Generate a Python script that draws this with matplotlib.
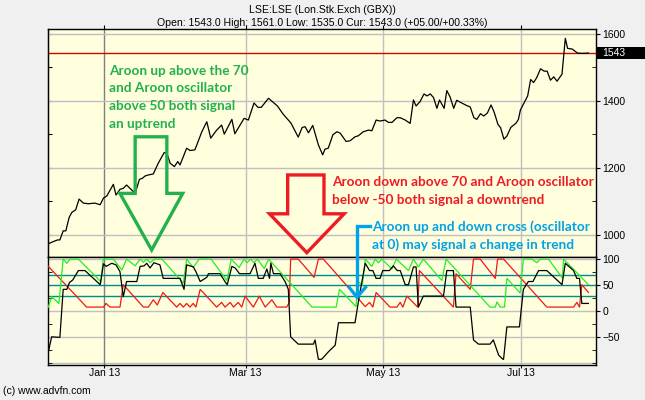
import matplotlib
matplotlib.use("Agg")
import matplotlib.pyplot as plt
import matplotlib.transforms as mtransforms
from matplotlib.patches import Polygon, Rectangle
from matplotlib.ticker import MultipleLocator

plt.rcParams['font.family'] = ['Liberation Sans', 'DejaVu Sans']

# x axis = trading-day index across the visible window
month_ticks = [17.1, 59.9, 101.6, 143.3]
month_labels = ["Jan 13", "Mar 13", "May 13", "Jul 13"]

price_days = [0, 1.1, 2.9, 3.6, 4.6, 5.4, 6.4, 7.2, 8.4, 9.4,
              10.7, 12.2, 14.2, 15.8, 16.8, 17.8, 19.8, 20.6, 21.8, 22.8,
              23.8, 26.4, 27.7, 28.6, 29.4, 30.4, 31.9, 33.4, 35.2, 36,
              37, 38.3, 39.3, 40, 42, 43, 44.5, 46.6, 48.1, 49.3,
              51.1, 52.6, 53.4, 55.7, 56.6, 59.4, 60.7, 62.4, 63.6, 64.6,
              66.8, 69.5, 71.2, 73.6, 75.8, 77, 77.9, 78.9, 80.2, 81.9,
              83.2, 83.9, 84.9, 86.3, 87.5, 88.5, 90.3, 91.5, 93, 94,
              95.5, 97.1, 98.1, 99.4, 100.6, 102.1, 103.1, 104.2, 105.7, 106.7,
              108.2, 109.7, 110.7, 111.5, 112.7, 113.9, 114.8, 115.8, 116.8, 117.8,
              118.6, 120, 120.8, 121.8, 122.9, 123.8, 125.5, 126.9, 127.9, 129,
              129.9, 131, 132, 133.1, 134.2, 135.1, 136.3, 137.1, 138.1, 139,
              140.2, 141.8, 142.5, 143.1, 144.2, 145.3, 146.2, 147.1, 148, 149.2,
              150.3, 151.2, 152.2, 153.2, 154.2, 155.7, 156.7, 157.4, 158.8, 160.4,
              162, 163.7]
price_vals = [973, 978, 985, 985, 1012, 1012, 1052, 1067, 1075, 1107,
              1095, 1093, 1095, 1090, 1110, 1116, 1151, 1119, 1136, 1139,
              1149, 1124, 1166, 1169, 1176, 1179, 1182, 1214, 1246, 1244,
              1214, 1204, 1219, 1209, 1259, 1252, 1254, 1308, 1338, 1289,
              1313, 1328, 1301, 1345, 1302, 1348, 1343, 1394, 1381, 1381,
              1408, 1385, 1361, 1334, 1292, 1321, 1323, 1305, 1327, 1269,
              1239, 1256, 1259, 1299, 1308, 1304, 1279, 1281, 1293, 1296,
              1308, 1313, 1311, 1343, 1340, 1343, 1336, 1336, 1350, 1350,
              1343, 1333, 1403, 1385, 1398, 1421, 1415, 1421, 1410, 1378,
              1403, 1378, 1431, 1412, 1378, 1402, 1393, 1386, 1382, 1350,
              1345, 1362, 1355, 1364, 1388, 1368, 1330, 1320, 1286, 1295,
              1321, 1334, 1345, 1373, 1394, 1415, 1464, 1455, 1469, 1496,
              1489, 1489, 1462, 1472, 1459, 1480, 1587, 1557, 1555, 1543,
              1542, 1543]
current_price = 1543

up_days = [0.1, 1.1, 2.1, 3.3, 4.6, 5.7, 6.7, 9.2, 16.1, 16.7,
           19.8, 22.4, 23.8, 26.4, 27.9, 28.9, 29.9, 30.9, 32.4, 34.5,
           41, 42, 44, 45.8, 49.4, 54.2, 55.5, 57.9, 59.4, 60.3,
           61.4, 62.4, 63.4, 65.5, 66.8, 80, 87.3, 88.3, 93.3, 93.9,
           95.2, 96.1, 98.1, 99.1, 100.1, 101.1, 104.2, 105.5, 109.2, 110.7,
           112.2, 113.7, 119.3, 120.6, 133.9, 135.5, 136, 137, 138.3, 139,
           143, 144, 146.6, 148.1, 149.1, 151.6, 155.8, 156.2, 163.7]
up_vals = [8, 28, 22, 15, 100, 92, 100, 100, 56, 100,
           100, 79, 100, 87, 100, 94, 100, 93, 100, 100,
           54, 100, 84, 100, 100, 59, 100, 84, 100, 93,
           100, 93, 100, 82, 100, 8, 8, 42, 9, 57,
           50, 100, 86, 100, 93, 100, 81, 100, 78, 100,
           85, 100, 59, 100, 8, 8, 18, 8, 8, 63,
           35, 100, 100, 93, 100, 100, 64, 100, 51]

down_days = [0.1, 11.7, 16.8, 17.6, 18.8, 21.8, 22.8, 28.9, 30.4, 31.9,
             33.1, 34.8, 39, 40, 41, 42, 43, 44, 44.8, 46.1,
             51.1, 52.6, 53.6, 55.2, 56.2, 57.6, 58.7, 59.7, 62.2, 64,
             65.8, 67.8, 69.3, 72.3, 73.1, 73.5, 75.8, 80.6, 81.9, 83.4,
             96.1, 97.4, 98.4, 99.4, 103.6, 105.7, 106.7, 107.5, 108.7, 112,
             112.5, 122.8, 123.6, 127.9, 128.9, 130.9, 135.5, 136.2, 138, 151.1,
             159.2, 160.2, 161, 161.7, 163.7]
down_vals = [86, 8, 8, 15, 8, 8, 51, 8, 8, 22,
             12, 36, 8, 15, 8, 15, 8, 15, 8, 42,
             8, 17, 8, 17, 8, 17, 8, 29, 8, 29,
             8, 22, 8, 8, 17, 100, 100, 65, 100, 100,
             9, 17, 8, 36, 8, 8, 17, 8, 29, 8,
             78, 8, 72, 42, 100, 100, 63, 100, 100, 8,
             8, 17, 8, 51, 36]

osc_days = [0.1, 1.1, 3.6, 4.6, 5.7, 6.5, 7.5, 9.2, 11.2, 15.8,
            16.8, 17.6, 19.3, 20.6, 21.8, 22.8, 23.8, 26.9, 27.9, 29.1,
            29.9, 30.9, 32.1, 33.9, 34.9, 40, 41.2, 42, 44, 44.8,
            46.1, 48.1, 48.6, 52.1, 53.6, 54.3, 55.7, 56.7, 58, 61.2,
            62.7, 63.7, 65.2, 66.3, 67.1, 67.5, 68.3, 70.3, 71.8, 72.8,
            73.5, 75.8, 80.4, 80.9, 81.9, 82.9, 84.9, 87, 88, 93,
            94.3, 96.1, 97.4, 98.4, 99.4, 100.6, 101.4, 103.4, 104.6, 105.8,
            106.7, 108.2, 109.2, 110.7, 111.5, 112.2, 113.7, 119.8, 120.8, 122.8,
            123.6, 127.9, 128.9, 130.4, 133.9, 134.9, 136.5, 137.8, 138, 139,
            142.8, 144, 145.5, 146.9, 148.6, 151.1, 155.7, 156.7, 159.2, 160.2,
            161, 161.7, 163.7]
osc_vals = [-78, -49, -50, 42, 42, 55, 60, 78, 78, 51,
            91, 86, 92, 89, 76, 28, 57, 57, 86, 87,
            92, 83, 93, 89, 63, 63, 42, 89, 85, 76,
            57, 65, 72, 72, 57, 51, 86, 83, 72, 72,
            92, 63, 63, 81, 63, 92, 72, 72, 57, 42,
            -49, -63, -63, -55, -92, -92, -78, -65, -22, -22,
            29, 92, 78, 78, 63, 63, 78, 78, 87, 78,
            78, 51, 51, 85, 85, 8, 29, 29, 78, 78,
            8, 8, -55, -63, -63, -55, -84, -92, -92, -30,
            -30, 42, 57, 57, 78, 78, 51, 92, 78, 63,
            63, 15, 15]
signal_levels = [30, 50, 70]

green_text = ["Aroon up above the 70", "and Aroon oscillator",
              "above 50 both signal", "an uptrend"]
red_text = ["Aroon down above 70 and Aroon oscillator",
            "below -50 both signal a downtrend"]
blue_text = ["Aroon up and down cross (oscillator",
             "at 0) may signal a change in trend"]

panel_bg = '#fffedd'
grid_c = '#c0c0c0'

fig = plt.figure(figsize=(6.45, 4), dpi=100, facecolor='#f0f0f0')
ax1 = fig.add_axes([48/645, 143/400, 548/645, 227.7/400], facecolor=panel_bg)
ax2 = fig.add_axes([48/645, 35/400, 548/645, 108/400], facecolor=panel_bg, sharex=ax1)

# price panel
ax1.set_xlim(0, 166)
ax1.set_ylim(934, 1614)
ax1.plot(price_days, price_vals, color='black', lw=0.9, zorder=3)
ax1.axhline(current_price, color='#dd0000', lw=1, zorder=2)
ax1.yaxis.set_major_locator(MultipleLocator(200))
ax1.yaxis.set_minor_locator(MultipleLocator(100))
ax1.yaxis.tick_right()
ax1.tick_params(axis='y', which='major', direction='out', length=3, labelsize=7.5, pad=1.5)
ax1.tick_params(axis='y', which='minor', direction='in', length=3)
ax1.grid(axis='y', which='major', color=grid_c, lw=1, zorder=0)
ax1.tick_params(axis='x', top=True, bottom=False, labeltop=False, labelbottom=False,
                direction='out', length=3)
sec = ax1.secondary_yaxis('left')
sec.set_yticks(range(1000, 1700, 100))
sec.tick_params(direction='in', length=3, labelleft=False)

# current price tag on right axis
tr = mtransforms.blended_transform_factory(ax1.transAxes, ax1.transData)
ax1.add_patch(Rectangle((1.0, current_price - 19), 0.09, 38, transform=tr,
                        facecolor='black', edgecolor='none', clip_on=False, zorder=5))
ax1.text(1.012, current_price, str(current_price), transform=tr, color='white',
         fontsize=7.5, va='center', ha='left', zorder=6)

# aroon panel
ax2.set_ylim(-103, 104)
ax2.axhline(100, color=grid_c, lw=1, zorder=0)
ax2.axhline(0, color=grid_c, lw=1, zorder=0)
ax2.axhline(-50, color=grid_c, lw=1, zorder=0)
ax2.axhline(-100, color=grid_c, lw=1, zorder=0)
for lv in signal_levels:
    ax2.axhline(lv, color='#008b8b', lw=1, zorder=1)
ax2.plot(down_days, down_vals, color='#f01818', lw=0.9, zorder=3)
ax2.plot(up_days, up_vals, color='#22ee22', lw=0.9, zorder=3)
ax2.plot(osc_days, osc_vals, color='black', lw=0.9, zorder=4)
ax2.yaxis.tick_right()
ax2.set_yticks([100, 50, 0, -50])
ax2.yaxis.set_minor_locator(MultipleLocator(25))
ax2.tick_params(axis='y', which='major', direction='out', length=3, labelsize=7.5, pad=1.5)
ax2.tick_params(axis='y', which='minor', direction='in', length=3, left=True)
ax2.set_xticks(month_ticks, month_labels)
ax2.tick_params(axis='x', direction='out', length=2, labelsize=7.5, pad=0.5)

for ax in (ax1, ax2):
    for i, m in enumerate(month_ticks):
        ax.axvline(m, color='#808080' if i == 0 else grid_c, lw=1, zorder=0)
    for s in ax.spines.values():
        s.set_color('black')
        s.set_linewidth(1)

# annotations
ann = dict(fontfamily='Lato', fontweight='bold', fontsize=9.8, va='center', ha='left',
           zorder=7)
for i, line in enumerate(green_text):
    ax1.annotate(line, xy=(18.5, 1490), xytext=(0, -12.7 * i), textcoords='offset points',
                 color='#22b14c', **ann)
for i, line in enumerate(red_text):
    ax1.annotate(line, xy=(86, 1157), xytext=(0, -12.7 * i), textcoords='offset points',
                 color='#ed1c24', **ann)
for i, line in enumerate(blue_text):
    ax1.annotate(line, xy=(98.1, 1025), xytext=(0, -12.7 * i), textcoords='offset points',
                 color='#00a2e8', **ann)

green_arrow = [(26.4, 1293), (36, 1293), (36, 1124), (40.8, 1124),
               (31.4, 955), (21.8, 1124), (26.4, 1124)]
red_arrow = [(72.6, 1179), (83.6, 1179), (83.6, 1063), (89.7, 1063),
             (78.4, 947), (67.1, 1063), (72.6, 1063)]
ax1.add_patch(Polygon(green_arrow, closed=True, fill=False, edgecolor='#22b14c',
                      lw=2.4, joinstyle='miter', zorder=6))
ax1.add_patch(Polygon(red_arrow, closed=True, fill=False, edgecolor='#ed1c24',
                      lw=2.4, joinstyle='miter', zorder=6, clip_on=False))

ax2.plot([97.6, 93.6, 93.6], [164, 164, 29], color='#00a2e8', lw=2.4,
         clip_on=False, zorder=8, solid_joinstyle='miter')
ax2.plot([91.2, 93.6, 96.2], [46, 27, 46], color='#00a2e8', lw=2.4,
         clip_on=False, zorder=8, solid_joinstyle='miter')

fig.text(322/645, 1 - 10/400, "LSE:LSE (Lon.Stk.Exch (GBX))", ha='center', va='center',
         fontsize=7.6)
fig.text(322/645, 1 - 23/400,
         "Open: 1543.0 High: 1561.0 Low: 1535.0 Cur: 1543.0 (+05.00/+00.33%)",
         ha='center', va='center', fontsize=7.6)
fig.text(3/645, 1 - 391/400, "(c) www.advfn.com", ha='left', va='center', fontsize=7.5)

fig.savefig("out.png", dpi=100, facecolor=fig.get_facecolor())
